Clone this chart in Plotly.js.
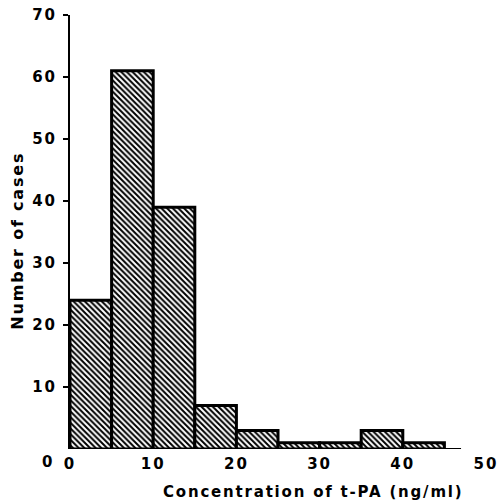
<!DOCTYPE html>
<html>
<head>
<meta charset="utf-8">
<script src="https://cdn.plot.ly/plotly-3.0.1.min.js"></script>
<style>
  html, body { margin: 0; padding: 0; background: #fff; }
  #chart { width: 499px; height: 502px; }
  .xtick text, .ytick text { letter-spacing: 2px; }
  .annotation-text { letter-spacing: 1.8px; }
</style>
</head>
<body>
<div id="chart"></div>
<script>
// Histogram of t-PA concentration: bin left edges (ng/ml), bin width and case counts
const binStarts = [0, 5, 10, 15, 20, 25, 30, 35, 40];
const binWidth = 5;
const caseCounts = [24, 61, 39, 7, 3, 1, 1, 3, 1];

const xTickValues = [0, 10, 20, 30, 40, 50];
const yTickValues = [10, 20, 30, 40, 50, 60, 70];

const xTitle = 'Concentration of t-PA (ng/ml)';
const yTitle = 'Number of cases';

const labelFont = { family: 'DejaVu Sans, Arial, sans-serif', size: 15, color: '#000', weight: 'bold' };
const xTitleFont = { family: 'DejaVu Sans, Arial, sans-serif', size: 15, color: '#000', weight: 'bold' };
const yTitleFont = { family: 'DejaVu Sans, Arial, sans-serif', size: 16, color: '#000', weight: 'bold' };

const trace = {
  type: 'bar',
  x: binStarts.map(s => s + binWidth / 2),
  y: caseCounts,
  width: binStarts.map(() => binWidth),
  marker: {
    color: '#fff',
    line: { color: '#000', width: 3 },
    pattern: { shape: '\\', fgcolor: '#000', bgcolor: '#fff', size: 4, solidity: 0.5 }
  },
  hoverinfo: 'x+y'
};

const layout = {
  width: 499,
  height: 502,
  margin: { l: 70, r: 13, t: 15, b: 53 },
  paper_bgcolor: '#fff',
  plot_bgcolor: '#fff',
  showlegend: false,
  bargap: 0,
  xaxis: {
    range: [0, 50],
    tickvals: xTickValues,
    ticktext: xTickValues.map(String),
    ticks: '',
    ticklabelstandoff: 4,
    showgrid: false,
    zeroline: false,
    showline: false,
    tickfont: labelFont,
    fixedrange: true
  },
  yaxis: {
    range: [0, 70],
    tickvals: yTickValues,
    ticktext: yTickValues.map(String),
    ticks: 'outside',
    ticklen: 5,
    tickwidth: 2,
    tickcolor: '#000',
    ticklabelstandoff: 3,
    showgrid: false,
    zeroline: false,
    showline: true,
    linecolor: '#000',
    linewidth: 2,
    tickfont: labelFont,
    fixedrange: true
  },
  shapes: [
    // baseline under the bars
    { type: 'line', xref: 'x', yref: 'y', x0: 0, x1: 47, y0: 0, y1: 0,
      line: { color: '#000', width: 2 } }
  ],
  annotations: [
    { text: '0', xref: 'paper', yref: 'paper', x: -0.033, y: -0.03,
      xanchor: 'right', yanchor: 'middle', showarrow: false, font: labelFont },
    { text: xTitle, xref: 'paper', yref: 'paper', x: 0.585, y: -0.1,
      xanchor: 'center', yanchor: 'middle', showarrow: false, font: xTitleFont },
    { text: yTitle, xref: 'paper', yref: 'paper', x: -0.125, y: 0.48, textangle: -90,
      xanchor: 'center', yanchor: 'middle', showarrow: false, font: yTitleFont }
  ]
};

Plotly.newPlot('chart', [trace], layout, { displayModeBar: false, staticPlot: true });
</script>
</body>
</html>
